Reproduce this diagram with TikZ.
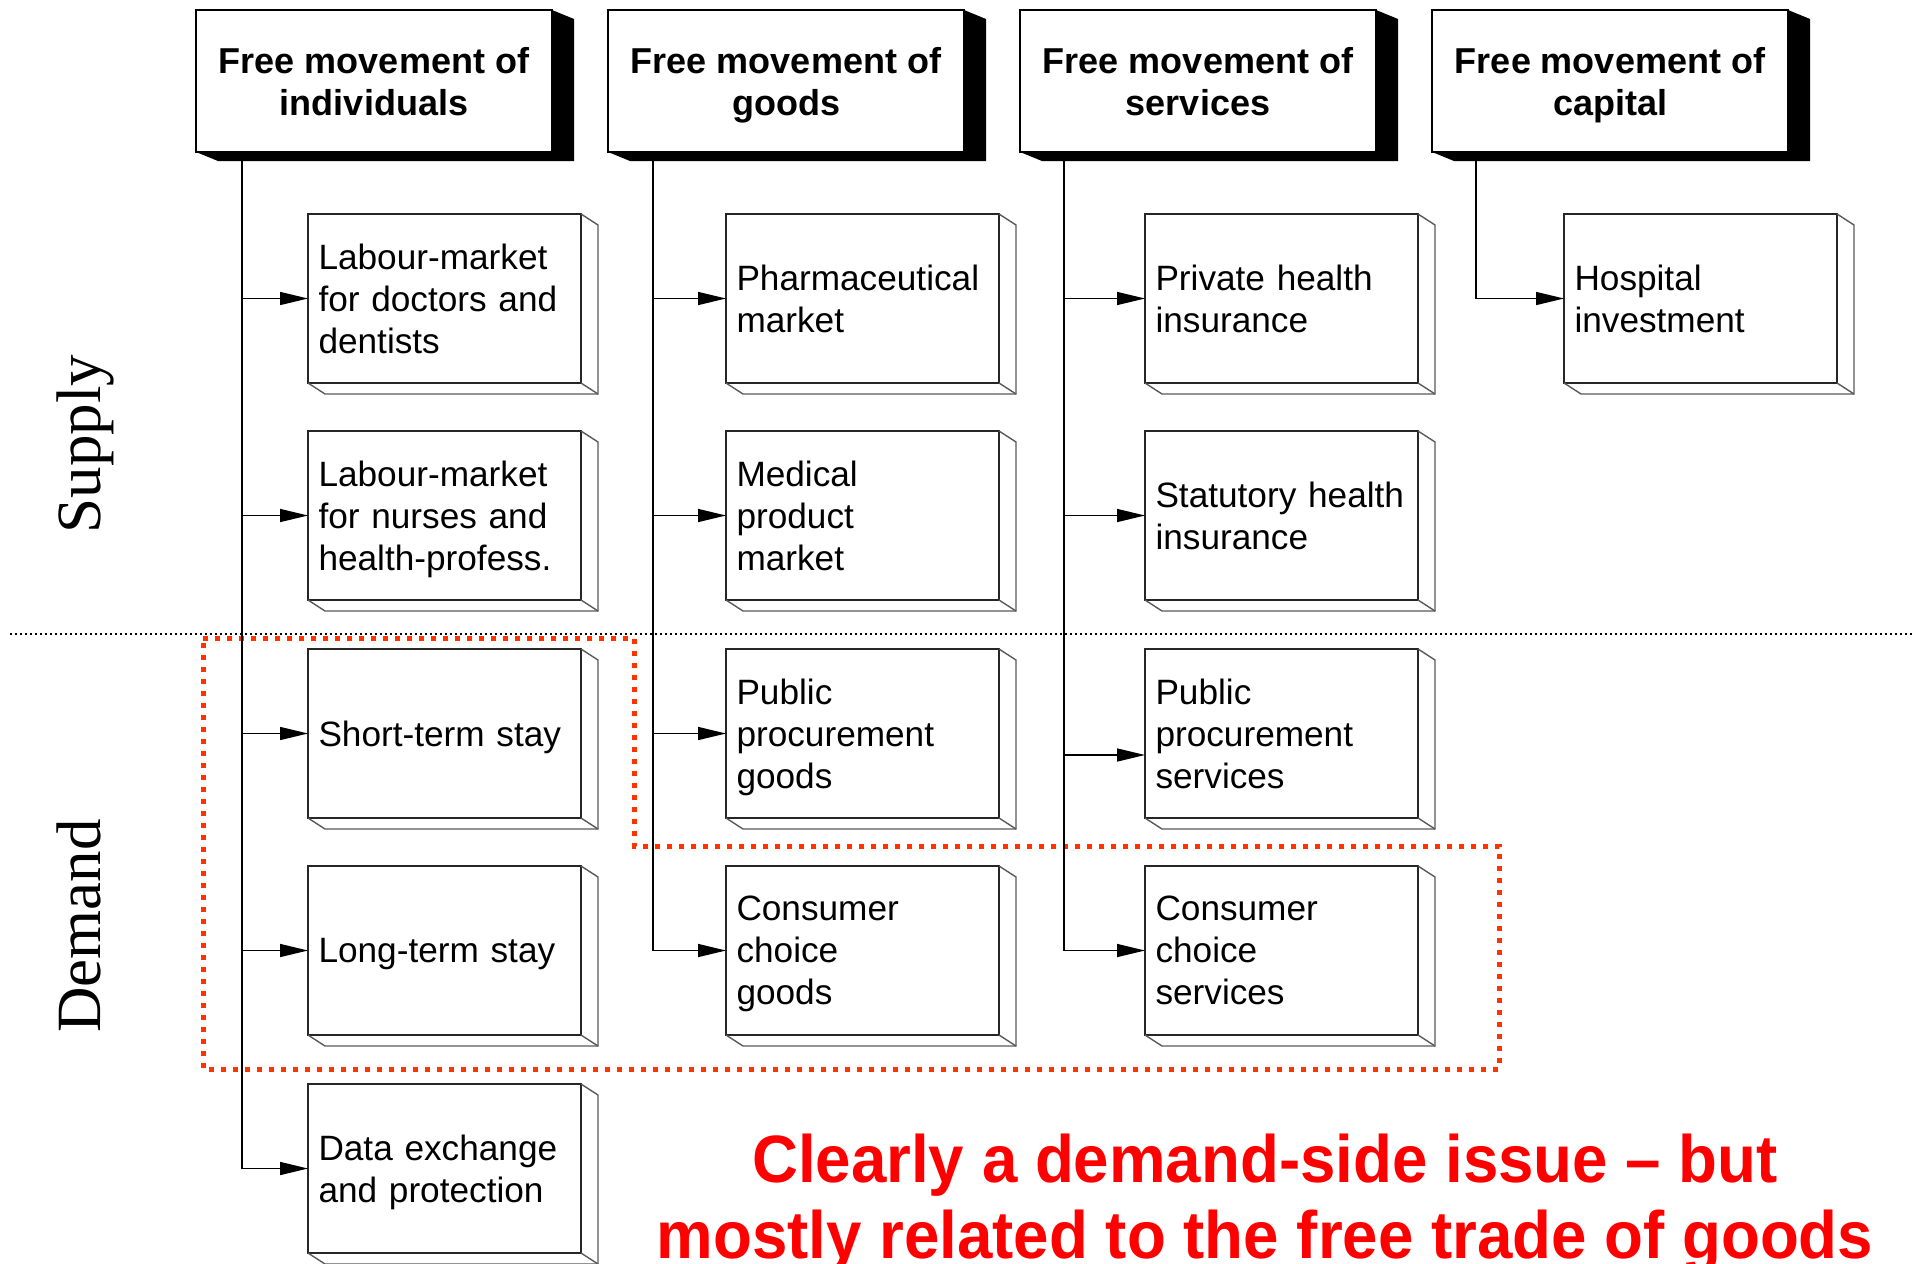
\documentclass[tikz,border=0pt]{standalone}
\usepackage{fontspec}
\setmainfont{Liberation Sans}
\newfontfamily\labelserif{Liberation Serif}
\newfontfamily\notefont[FakeStretch=0.95]{Liberation Sans}
\usetikzlibrary{arrows.meta,calc}
\definecolor{notered}{RGB}{255,0,0}
\definecolor{framered}{RGB}{255,51,0}

% last line of a box text: keep its descenders out of the vertical centring
\newcommand{\flatbase}[1]{\raisebox{0pt}[\height][0pt]{#1}}

\tikzset{
  headbox/.style={draw=black, line width=1pt, fill=white,
    minimum width=178pt, minimum height=71pt, inner sep=0pt, outer sep=0pt,
    align=center, font=\fontsize{18}{21}\selectfont\bfseries},
  itembox/.style={draw=black!85, line width=1pt, fill=white,
    minimum width=136.5pt, minimum height=84.5pt, inner xsep=5.25pt,
    inner ysep=0pt, outer sep=0pt, text width=126pt, align=left,
    font=\fontsize{17.6}{21}\selectfont},
  sideline/.style={draw=black!65, line width=0.7pt, line join=miter},
  link/.style={draw=black, line width=0.75pt},
  feed/.style={link, -{Triangle[length=14pt,width=6.5pt]}},
  sidelabel/.style={rotate=90, anchor=base, inner sep=0pt,
    font=\labelserif\fontsize{31.5}{36}\selectfont},
  note/.style={anchor=base, inner sep=0pt, text=notered,
    font=\notefont\fontsize{33.5}{38}\selectfont\bfseries},
  separator/.style={draw=black, line width=1pt, dash pattern=on 1pt off 1.5pt},
  demandframe/.style={draw=framered, line width=2.5pt, dash pattern=on 2.5pt off 3.5pt}
}

% extruded sides of an item box
\newcommand{\itemsides}[1]{%
  \draw[sideline] (#1.north east) -- ++(17,11) -- ($(#1.south east)+(17,11)$)
    -- ($(#1.south west)+(17,11)$) -- (#1.south west);
  \draw[sideline] (#1.south east) -- ++(17,11);}
% solid black extrusion of a heading box
\newcommand{\headsides}[1]{%
  \fill[black] (#1.north east) -- ++(22,9) -- ($(#1.south east)+(22,9)$)
    -- ($(#1.south west)+(22,9)$) -- (#1.south west) -- (#1.south east) -- cycle;}

\begin{document}
\begin{tikzpicture}[x=0.5pt, y=-0.5pt]
\useasboundingbox (0,0) rectangle (1914,1263);

% demand-side frame and supply/demand separator
\draw[demandframe] (203,638) -- (634,638) -- (634,846) -- (1499,846)
  -- (1499,1069) -- (203,1069) -- cycle;
\draw[separator] (10,634) -- (1914,634);

\node[sidelabel] (supply) at (100,444) {Supply};
\node[sidelabel] (demand) at (100,926) {Demand};

% headings
\node[headbox] (h1) at (374,81)  {Free movement of\\\flatbase{individuals}};
\node[headbox] (h2) at (786,81)  {Free movement of\\\flatbase{goods}};
\node[headbox] (h3) at (1198,81) {Free movement of\\\flatbase{services}};
\node[headbox] (h4) at (1610,81) {Free movement of\\\flatbase{capital}};
\foreach \h in {h1,h2,h3,h4} {\headsides{\h}}

% individuals
\node[itembox] (b11) at (444.5,298.5)  {Labour-market\\for doctors and\\\flatbase{dentists}};
\node[itembox] (b12) at (444.5,515.5)  {Labour-market\\for nurses and\\\flatbase{health-profess.}};
\node[itembox] (b13) at (444.5,733.5)  {\flatbase{Short-term stay}};
\node[itembox] (b14) at (444.5,950.5)  {\flatbase{Long-term stay}};
\node[itembox] (b15) at (444.5,1168.5) {Data exchange\\\flatbase{and protection}};
% goods
\node[itembox] (b21) at (862.5,298.5) {Pharmaceutical\\\flatbase{market}};
\node[itembox] (b22) at (862.5,515.5) {Medical\\product\\\flatbase{market}};
\node[itembox] (b23) at (862.5,733.5) {Public\\procurement\\\flatbase{goods}};
\node[itembox] (b24) at (862.5,950.5) {Consumer\\choice\\\flatbase{goods}};
% services
\node[itembox] (b31) at (1281.5,298.5) {Private health\\\flatbase{insurance}};
\node[itembox] (b32) at (1281.5,515.5) {Statutory health\\\flatbase{insurance}};
\node[itembox] (b33) at (1281.5,733.5) {Public\\procurement\\\flatbase{services}};
\node[itembox] (b34) at (1281.5,950.5) {Consumer\\choice\\\flatbase{services}};
% capital
\node[itembox] (b41) at (1700.5,298.5) {Hospital\\\flatbase{investment}};

\foreach \b in {b11,b12,b13,b14,b15,b21,b22,b23,b24,b31,b32,b33,b34,b41} {\itemsides{\b}}

% trunk lines below the headings
\coordinate (c1) at ($(h1.south west)+(46,0)$);
\coordinate (c2) at ($(h2.south west)+(45,0)$);
\coordinate (c3) at ($(h3.south west)+(44,0)$);
\coordinate (c4) at ($(h4.south west)+(44,0)$);
\coordinate (p33) at ($(b33.west)+(0,21.5)$);

\draw[feed] (c1) |- (b15.west);
\foreach \b in {b11,b12,b13,b14} {\draw[feed] (c1 |- \b.west) -- (\b.west);}
\draw[feed] (c2) |- (b24.west);
\foreach \b in {b21,b22,b23} {\draw[feed] (c2 |- \b.west) -- (\b.west);}
\draw[feed] (c3) |- (b34.west);
\foreach \b in {b31,b32} {\draw[feed] (c3 |- \b.west) -- (\b.west);}
\draw[feed] (c3 |- p33) -- (p33);
\draw[feed] (c4) |- (b41.west);

% remark
\node[note] (m1) at (1265,1182) {Clearly a demand-side issue – but};
\node[note] (m2) at (1265,1258) {mostly related to the free trade of goods};
\end{tikzpicture}
\end{document}
